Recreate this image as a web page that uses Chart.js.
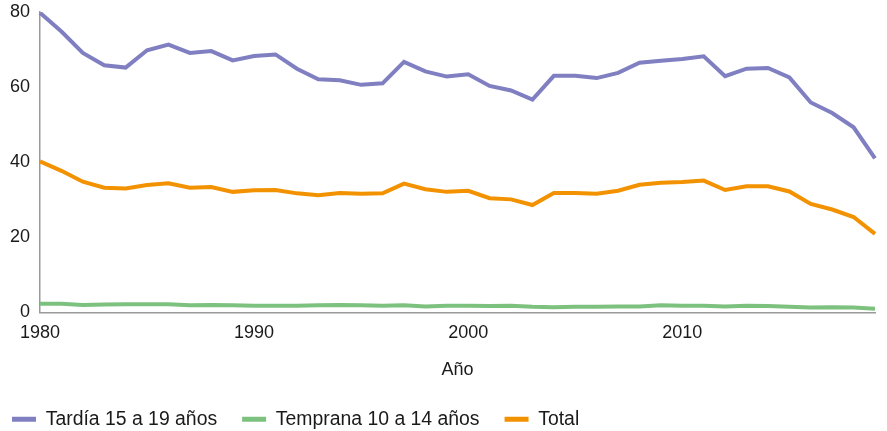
<!DOCTYPE html>
<html>
<head>
<meta charset="utf-8">
<script src="https://cdn.jsdelivr.net/npm/chart.js@4.4.1/dist/chart.umd.min.js"></script>
<style>
  html, body { margin: 0; padding: 0; background: #fff; }
  #wrap { width: 887px; height: 431px; }
</style>
</head>
<body>
<div id="wrap"><canvas id="chart" width="887" height="431"></canvas></div>
<script>
const YEARS = [];
for (let y = 1980; y <= 2019; y++) YEARS.push(y);

const TARDIA = [79.8, 74.8, 69.1, 65.8, 65.2, 69.8, 71.3, 69.1, 69.6, 67.1,
                68.3, 68.7, 64.9, 62.1, 61.8, 60.6, 61.0, 66.7, 64.2, 62.8,
                63.4, 60.3, 59.1, 56.7, 63.0, 63.0, 62.4, 63.8, 66.5, 67.0,
                67.5, 68.2, 62.9, 64.9, 65.1, 62.6, 55.9, 53.1, 49.3, 41.0];

const TEMPRANA = [2.3, 2.3, 2.0, 2.1, 2.2, 2.2, 2.2, 1.9, 2.0, 1.9,
                  1.8, 1.8, 1.8, 1.9, 2.0, 1.9, 1.8, 1.9, 1.6, 1.8,
                  1.8, 1.7, 1.8, 1.5, 1.4, 1.5, 1.5, 1.6, 1.6, 1.9,
                  1.8, 1.8, 1.6, 1.8, 1.7, 1.5, 1.3, 1.4, 1.3, 1.0];

const TOTAL = [40.2, 37.7, 34.8, 33.2, 33.0, 33.9, 34.4, 33.2, 33.4, 32.1,
               32.5, 32.6, 31.7, 31.2, 31.8, 31.6, 31.7, 34.3, 32.8, 32.1,
               32.4, 30.4, 30.1, 28.6, 31.8, 31.8, 31.6, 32.4, 34.0, 34.5,
               34.7, 35.1, 32.6, 33.6, 33.6, 32.2, 28.9, 27.4, 25.4, 20.9];

const Y_TICKS = [0, 20, 40, 60, 80];

const FONT = "'Liberation Sans', Arial, sans-serif";
const AXIS_COLOR = "#9a9a9a";

function line(label, data, color) {
  return {
    label, data,
    borderColor: color,
    backgroundColor: color,
    borderWidth: 4,
    pointRadius: 0,
    tension: 0,
    fill: false
  };
}

new Chart(document.getElementById("chart").getContext("2d"), {
  type: "line",
  data: {
    labels: YEARS,
    datasets: [
      line("Tardía 15 a 19 años", TARDIA, "#7f7fc1"),
      line("Temprana 10 a 14 años", TEMPRANA, "#7dc17f"),
      line("Total", TOTAL, "#f39200")
    ]
  },
  options: {
    responsive: false,
    animation: false,
    // negative left so the legend starts near the edge, y axis width fixed below
    layout: { padding: { left: -13, right: 12, top: 12, bottom: -8 } },
    plugins: {
      tooltip: { enabled: false },
      legend: {
        position: "bottom",
        align: "start",
        labels: {
          font: { family: FONT, size: 19.4 },
          color: "#1a1a1a",
          boxWidth: 24,
          boxHeight: 5,
          padding: 25,
          generateLabels: chart =>
            Chart.defaults.plugins.legend.labels.generateLabels(chart)
              .map(l => Object.assign(l, { lineWidth: 0 }))
        }
      }
    },
    scales: {
      x: {
        offset: false,
        grid: { display: false, drawTicks: false },
        border: { display: true, color: AXIS_COLOR, width: 1.5 },
        ticks: {
          autoSkip: false,
          maxRotation: 0,
          padding: 10,
          color: "#1a1a1a",
          font: { family: FONT, size: 18 },
          callback: function (v) {
            const yr = YEARS[v];
            return yr % 10 === 0 ? String(yr) : "";
          }
        },
        title: {
          display: true,
          text: "Año",
          color: "#1a1a1a",
          font: { family: FONT, size: 18 },
          padding: { top: 5, bottom: 4 }
        }
      },
      y: {
        min: 0,
        max: 80,
        afterBuildTicks: axis => { axis.ticks = Y_TICKS.map(v => ({ value: v })); },
        afterFit: axis => {
          axis.width = 53;
          axis.paddingTop = 0;
          axis.paddingBottom = 0;
        },
        grid: { display: false, drawTicks: false },
        border: { display: true, color: AXIS_COLOR, width: 1.5 },
        ticks: {
          padding: 10,
          color: "#1a1a1a",
          font: { family: FONT, size: 18 }
        }
      }
    }
  }
});
</script>
</body>
</html>
